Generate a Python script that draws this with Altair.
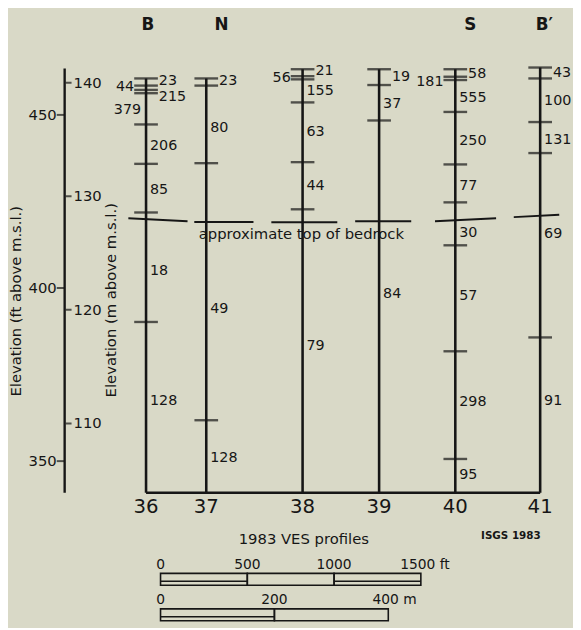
import altair as alt
import pandas as pd

INK = "#161616"
BG = "#d9d9c7"
FONT = "DejaVu Sans"

# ---------------- data ----------------
PROFILES = ["36", "37", "38", "39", "40", "41"]
PROFILE_X_FT = [0, 347, 902, 1343, 1782, 2271]          # distance along section, ft
PROFILE_TOP_M = [140.37, 140.37, 141.18, 141.18, 141.18, 141.33]
BASE_M = 103.9

# layer boundaries (elevation, m above m.s.l.)
B36 = [140.37, 139.74, 139.36, 139.07, 136.32, 132.85, 128.57, 118.93]
B37 = [140.37, 139.74, 132.91, 110.28]
B38 = [141.18, 140.57, 140.29, 138.26, 133.00, 128.85]
B39 = [141.18, 139.79, 136.67]
B40 = [141.18, 140.52, 140.23, 137.42, 132.80, 129.46, 125.68, 116.35, 106.87]
B41 = [141.33, 140.37, 136.53, 133.80, 117.57]
BOUNDARIES_M = [B36, B37, B38, B39, B40, B41]

# resistivity of each layer (ohm-m), label elevation and label side
R36 = [23, 44, 215, 379, 206, 85, 18, 128]
R36_M = [140.14, 139.57, 138.72, 137.57, 134.38, 130.54, 123.39, 112.01]
R36_S = ["RT", "L", "RT", "LN", "R", "R", "R", "R"]
R37 = [23, 80, 49, 128]
R37_M = [140.11, 136.03, 120.06, 106.95]
R37_S = ["RT", "R", "R", "R"]
R38 = [21, 56, 155, 63, 44, 79]
R38_M = [141.04, 140.37, 139.22, 135.66, 130.89, 116.79]
R38_S = ["RT", "L", "R", "R", "R", "R"]
R39 = [19, 37, 84]
R39_M = [140.46, 138.14, 121.42]
R39_S = ["RT", "R", "R"]
R40 = [58, 181, 555, 250, 77, 30, 57, 298, 95]
R40_M = [140.75, 140.09, 138.64, 134.88, 130.91, 126.77, 121.19, 111.88, 105.45]
R40_S = ["RT", "L", "R", "R", "R", "R", "R", "R", "R"]
R41 = [43, 100, 131, 69, 91]
R41_M = [140.81, 138.40, 134.97, 126.63, 112.01]
R41_S = ["RT", "R", "R", "R", "R"]
RES = [R36, R37, R38, R39, R40, R41]
RES_M = [R36_M, R37_M, R38_M, R39_M, R40_M, R41_M]
RES_S = [R36_S, R37_S, R38_S, R39_S, R40_S, R41_S]

# approximate top of bedrock (segments)
BEDROCK_X1_FT = [-102, 278, 722, 1205, 1665, 2119]
BEDROCK_X2_FT = [239, 619, 1102, 1528, 2017, 2381]
BEDROCK_M1 = [128.07, 127.73, 127.70, 127.79, 127.79, 128.16]
BEDROCK_M2 = [127.79, 127.73, 127.70, 127.79, 128.07, 128.37]
BEDROCK_LABEL = "approximate top of bedrock"
BEDROCK_LABEL_X_FT = 895
BEDROCK_LABEL_M = 126.66

# elevation axis
AXIS_X_FT = -469
AXIS_TOP_M = 141.24
M_TICKS = [110, 120, 130, 140]
FT_TICKS = [350, 400, 450]
M_PER_FT = 0.3048

# section letters
LETTERS = ["B", "N", "S", "B\u2032"]
LETTER_X_FT = [11, 435, 1869, 2295]

# scale bars
SCALE_ORIGIN_FT = 83.5
FT_BAR = [0, 500, 1000, 1500]
FT_BAR_LABELS = ["0", "500", "1000", "1500 ft"]
M_BAR = [0, 200, 400]
M_BAR_LABELS = ["0", "200", "400 m"]

# ---------------- scales ----------------
XS = alt.Scale(domain=[-795.45, 2460.2], nice=False, zero=False)
YS = alt.Scale(domain=[92.37, 146.19], nice=False, zero=False)


def X(field):
    return alt.X(field, type="quantitative", scale=XS, axis=None)


def Y(field):
    return alt.Y(field, type="quantitative", scale=YS, axis=None)


# ---------------- tables ----------------
prof = pd.DataFrame({"p": PROFILES, "x": PROFILE_X_FT, "top": PROFILE_TOP_M,
                     "base": [BASE_M] * len(PROFILES)})

tick_rows = []
lab_rows = []
for i, p in enumerate(PROFILES):
    for b in BOUNDARIES_M[i]:
        tick_rows.append({"x": PROFILE_X_FT[i], "y": b})
    for v, m, s in zip(RES[i], RES_M[i], RES_S[i]):
        lab_rows.append({"x": PROFILE_X_FT[i], "y": m, "t": str(v), "s": s})
ticks = pd.DataFrame(tick_rows)
labs = pd.DataFrame(lab_rows)

base = pd.DataFrame({"x": [min(PROFILE_X_FT)], "x2": [max(PROFILE_X_FT)], "y": [BASE_M]})
bed = pd.DataFrame({"x": BEDROCK_X1_FT, "x2": BEDROCK_X2_FT, "y": BEDROCK_M1, "y2": BEDROCK_M2})
bedlab = pd.DataFrame({"x": [BEDROCK_LABEL_X_FT], "y": [BEDROCK_LABEL_M], "t": [BEDROCK_LABEL]})

axis_line = pd.DataFrame({"x": [AXIS_X_FT], "y": [AXIS_TOP_M], "y2": [BASE_M]})
m_ax = pd.DataFrame({"x": [AXIS_X_FT] * len(M_TICKS), "y": M_TICKS, "t": [str(v) for v in M_TICKS]})
ft_ax = pd.DataFrame({"x": [AXIS_X_FT] * len(FT_TICKS), "y": [v * M_PER_FT for v in FT_TICKS],
                      "t": [str(v) for v in FT_TICKS]})

letters = pd.DataFrame({"x": LETTER_X_FT, "t": LETTERS})

ft_seg = pd.DataFrame({"x": [SCALE_ORIGIN_FT + v for v in FT_BAR[:-1]],
                       "x2": [SCALE_ORIGIN_FT + v for v in FT_BAR[1:]],
                       "k": list(range(len(FT_BAR) - 1))})
m_seg = pd.DataFrame({"x": [SCALE_ORIGIN_FT + v / M_PER_FT for v in M_BAR[:-1]],
                      "x2": [SCALE_ORIGIN_FT + v / M_PER_FT for v in M_BAR[1:]],
                      "k": list(range(len(M_BAR) - 1))})
ft_lab = pd.DataFrame({"x": [SCALE_ORIGIN_FT + v for v in FT_BAR], "t": FT_BAR_LABELS,
                       "k": list(range(len(FT_BAR)))})
m_lab = pd.DataFrame({"x": [SCALE_ORIGIN_FT + v / M_PER_FT for v in M_BAR], "t": M_BAR_LABELS,
                      "k": list(range(len(M_BAR)))})

# ---------------- layers ----------------
txt = dict(font=FONT, color=INK)

verticals = alt.Chart(prof).mark_rule(color=INK, strokeWidth=2.6).encode(
    x=X("x"), y=Y("top"), y2="base")
baseline = alt.Chart(base).mark_rule(color=INK, strokeWidth=2.6).encode(
    x=X("x"), x2="x2", y=Y("y"))
tick_marks = alt.Chart(ticks).mark_tick(orient="horizontal", size=24, thickness=2.4, color=INK).encode(
    x=X("x"), y=Y("y"))

side_dx = {"R": 4, "RT": 13, "L": -12, "LN": -5}
side_align = {"R": "left", "RT": "left", "L": "right", "LN": "right"}
res_layers = []
for s in ["R", "RT", "L", "LN"]:
    res_layers.append(
        alt.Chart(labs).transform_filter(alt.datum.s == s).mark_text(
            align=side_align[s], baseline="middle", dx=side_dx[s], fontSize=14.5, **txt
        ).encode(x=X("x"), y=Y("y"), text="t:N"))

bedrock = alt.Chart(bed).mark_rule(color=INK, strokeWidth=2).encode(
    x=X("x"), x2="x2", y=Y("y"), y2="y2")
bedrock_text = alt.Chart(bedlab).mark_text(align="center", baseline="middle", fontSize=15, **txt).encode(
    x=X("x"), y=Y("y"), text="t:N")

ax_line = alt.Chart(axis_line).mark_rule(color=INK, strokeWidth=2.4).encode(
    x=X("x"), y=Y("y"), y2="y2")
m_ticks = alt.Chart(m_ax).mark_tick(orient="horizontal", size=6, thickness=2, xOffset=4, color=INK).encode(
    x=X("x"), y=Y("y"))
m_labels = alt.Chart(m_ax).mark_text(align="left", baseline="middle", dx=9, fontSize=15, **txt).encode(
    x=X("x"), y=Y("y"), text="t:N")
ft_ticks = alt.Chart(ft_ax).mark_tick(orient="horizontal", size=8, thickness=2, xOffset=-4, color=INK).encode(
    x=X("x"), y=Y("y"))
ft_labels = alt.Chart(ft_ax).mark_text(align="right", baseline="middle", dx=-8, fontSize=15, **txt).encode(
    x=X("x"), y=Y("y"), text="t:N")

title_ft = alt.Chart(pd.DataFrame({"t": ["Elevation (ft above m.s.l.)"]})).mark_text(
    angle=270, align="center", baseline="middle", fontSize=15, **txt).encode(
    x=alt.value(8), y=alt.value(293), text="t:N")
title_m = alt.Chart(pd.DataFrame({"t": ["Elevation (m above m.s.l.)"]})).mark_text(
    angle=270, align="center", baseline="middle", fontSize=15, **txt).encode(
    x=alt.value(105), y=alt.value(292), text="t:N")

letter_text = alt.Chart(letters).mark_text(align="center", baseline="middle", fontSize=17,
                                           fontWeight="bold", **txt).encode(
    x=X("x"), y=alt.value(13), text="t:N")
prof_numbers = alt.Chart(prof).mark_text(align="center", baseline="middle", fontSize=20, **txt).encode(
    x=X("x"), y=alt.value(502), text="p:N")
ves = alt.Chart(pd.DataFrame({"t": ["1983 VES profiles"]})).mark_text(
    align="center", baseline="middle", fontSize=15, **txt).encode(
    x=alt.value(300), y=alt.value(534), text="t:N")
isgs = alt.Chart(pd.DataFrame({"t": ["ISGS  1983"]})).mark_text(
    align="center", baseline="middle", fontSize=10.5, fontWeight="bold", **txt).encode(
    x=alt.value(510), y=alt.value(531), text="t:N")

ft_bar = alt.Chart(ft_seg).mark_rect(fillOpacity=0, stroke=INK, strokeWidth=1.6).encode(
    x=X("x"), x2="x2", y=alt.value(569), y2=alt.value(581))
ft_inner = alt.Chart(ft_seg).transform_filter("datum.k % 2 == 0").mark_rule(color=INK, strokeWidth=1.4).encode(
    x=X("x"), x2="x2", y=alt.value(577))
m_bar = alt.Chart(m_seg).mark_rect(fillOpacity=0, stroke=INK, strokeWidth=1.6).encode(
    x=X("x"), x2="x2", y=alt.value(605), y2=alt.value(617))
m_inner = alt.Chart(m_seg).transform_filter("datum.k % 2 == 0").mark_rule(color=INK, strokeWidth=1.4).encode(
    x=X("x"), x2="x2", y=alt.value(613))

n_ft = len(FT_BAR) - 1
n_m = len(M_BAR) - 1
ft_lab_mid = alt.Chart(ft_lab).transform_filter(f"datum.k < {n_ft}").mark_text(
    align="center", baseline="alphabetic", fontSize=14, **txt).encode(
    x=X("x"), y=alt.value(565), text="t:N")
ft_lab_end = alt.Chart(ft_lab).transform_filter(f"datum.k == {n_ft}").mark_text(
    align="left", baseline="alphabetic", dx=-21, fontSize=14, **txt).encode(
    x=X("x"), y=alt.value(565), text="t:N")
m_lab_mid = alt.Chart(m_lab).transform_filter(f"datum.k < {n_m}").mark_text(
    align="center", baseline="alphabetic", fontSize=14, **txt).encode(
    x=X("x"), y=alt.value(600), text="t:N")
m_lab_end = alt.Chart(m_lab).transform_filter(f"datum.k == {n_m}").mark_text(
    align="left", baseline="alphabetic", dx=-16, fontSize=14, **txt).encode(
    x=X("x"), y=alt.value(600), text="t:N")

chart = alt.layer(
    verticals, baseline, tick_marks, *res_layers, bedrock, bedrock_text,
    ax_line, m_ticks, m_labels, ft_ticks, ft_labels, title_ft, title_m,
    letter_text, prof_numbers, ves, isgs,
    ft_bar, ft_inner, m_bar, m_inner, ft_lab_mid, ft_lab_end, m_lab_mid, m_lab_end,
).properties(
    width=573, height=620, padding=0,
    autosize=alt.AutoSizeParams(type="none"),
    background=BG,
).configure_view(stroke=None)

chart.save("out.html", embed_options={"renderer": "svg", "actions": False})
